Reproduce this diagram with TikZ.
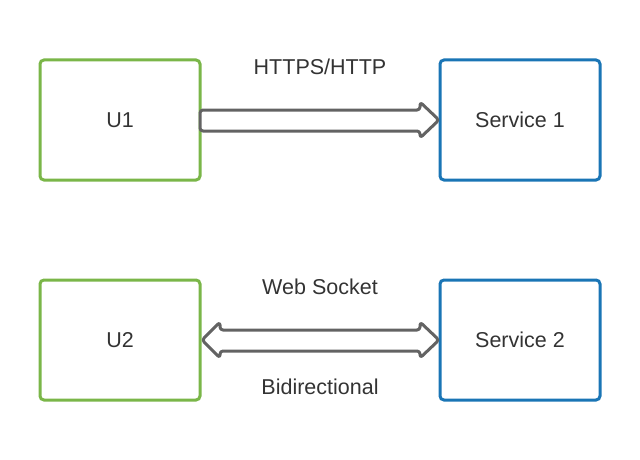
\documentclass[tikz,border=0pt]{standalone}
\usepackage{fontspec}
\setmainfont{Liberation Sans}
\usetikzlibrary{calc}
\definecolor{boxgreen}{HTML}{7AB648}
\definecolor{boxblue}{HTML}{1A75B5}
\definecolor{arrowgrey}{HTML}{636363}
\definecolor{txt}{HTML}{333333}
\tikzset{
  client/.style={draw=boxgreen, line width=3pt, rounded corners=4pt, minimum width=160pt, minimum height=120pt, outer sep=0pt, inner sep=0pt, text=txt, font=\fontsize{21.5}{25}\selectfont},
  server/.style={client, draw=boxblue},
  blockarrow/.style={draw=arrowgrey, line width=3pt, rounded corners=3pt, line join=round, fill=white},
  lbl/.style={text=txt, font=\fontsize{21.5}{25}\selectfont, inner sep=0pt}
}
\begin{document}
\begin{tikzpicture}[x=1pt,y=-1pt]
\useasboundingbox (0,0) rectangle (640,460);
\node[client] (u1) at (120,120) {U1};
\node[server] (s1) at (520,120) {Service 1};
\node[client] (u2) at (120,340) {U2};
\node[server] (s2) at (520,340) {Service 2};
\node[lbl] (l1) at (320,67) {HTTPS/HTTP};
\node[lbl] (l2) at (320,287) {Web Socket};
\node[lbl] (l3) at (320,386.5) {Bidirectional};
% single block arrow u1 -> s1
\draw[blockarrow] ($(u1.east)+(0,-10)$) -- ($(s1.west)+(-20,-10)$) -- ($(s1.west)+(-20,-18)$) -- ($(s1.west)+(-1,0)$) -- ($(s1.west)+(-20,18)$) -- ($(s1.west)+(-20,11)$) -- ($(u1.east)+(0,11)$) -- cycle;
% double block arrow u2 <-> s2
\draw[blockarrow] ($(u2.east)+(20,-10)$) -- ($(s2.west)+(-20,-10)$) -- ($(s2.west)+(-20,-18)$) -- ($(s2.west)+(-1,0)$) -- ($(s2.west)+(-20,18)$) -- ($(s2.west)+(-20,11)$) -- ($(u2.east)+(20,11)$) -- ($(u2.east)+(20,18)$) -- ($(u2.east)+(2,0)$) -- ($(u2.east)+(20,-18)$) -- cycle;
\end{tikzpicture}
\end{document}
